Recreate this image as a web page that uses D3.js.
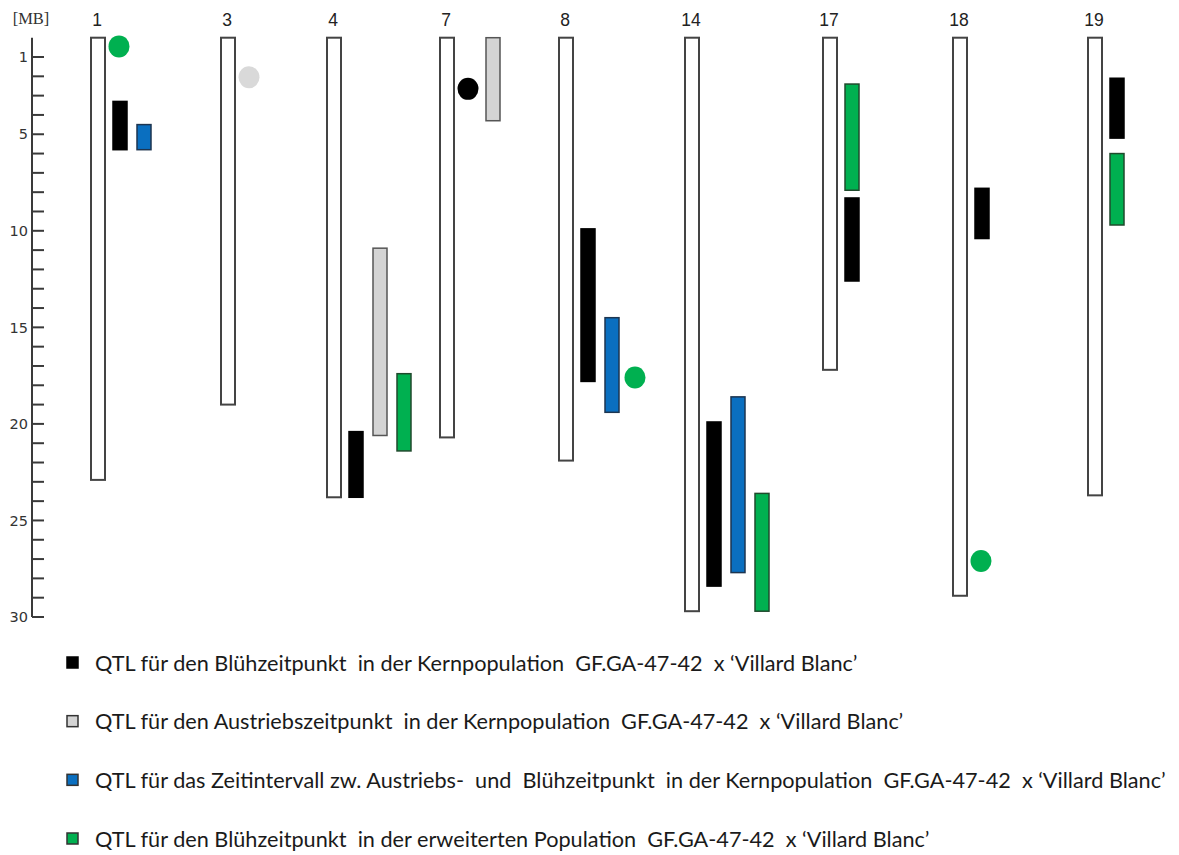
<!DOCTYPE html>
<html>
<head>
<meta charset="utf-8">
<script src="https://cdn.jsdelivr.net/npm/d3@7"></script>
<style>
  html, body { margin: 0; padding: 0; background: #fff; }
  svg { display: block; }
</style>
</head>
<body>
<svg id="chart" width="1179" height="855"></svg>
<script>
// ---------- data ----------
const chromosomes   = ["1", "3", "4", "7", "8", "14", "17", "18", "19"];
const chromLengths  = [22.9, 19.0, 23.8, 20.7, 21.9, 29.7, 17.2, 28.9, 23.7]; // MB

const traits = ["bluehKern", "austriebKern", "intervallKern", "bluehErweitert"];
const traitLabels = [
  "QTL für den Blühzeitpunkt  in der Kernpopulation  GF.GA-47-42  x \u2018Villard Blanc\u2019",
  "QTL für den Austriebszeitpunkt  in der Kernpopulation  GF.GA-47-42  x \u2018Villard Blanc\u2019",
  "QTL für das Zeitintervall zw. Austriebs-  und  Blühzeitpunkt  in der Kernpopulation  GF.GA-47-42  x \u2018Villard Blanc\u2019",
  "QTL für den Blühzeitpunkt  in der erweiterten Population  GF.GA-47-42  x \u2018Villard Blanc\u2019"
];

// QTL intervals (MB)
const qtlChrom = ["1", "1", "4", "4", "4", "7", "8", "8", "14", "14", "14", "17", "17", "18", "19", "19"];
const qtlTrait = ["bluehKern", "intervallKern", "bluehKern", "austriebKern", "bluehErweitert", "austriebKern",
                  "bluehKern", "intervallKern", "bluehKern", "intervallKern", "bluehErweitert",
                  "bluehErweitert", "bluehKern", "bluehKern", "bluehKern", "bluehErweitert"];
const qtlLane  = [1, 2, 1, 2, 3, 2, 1, 2, 1, 2, 3, 1, 1, 1, 1, 1];
const qtlStart = [3.3, 4.5, 20.4, 10.9, 17.4, 0.0, 9.9, 14.5, 19.9, 18.6, 23.6, 2.4, 8.3, 7.8, 2.1, 6.0];
const qtlEnd   = [5.8, 5.8, 23.8, 20.6, 21.4, 4.3, 17.8, 19.4, 28.4, 27.7, 29.7, 7.9, 12.6, 10.4, 5.2, 9.7];

// single-marker QTLs (MB)
const markerChrom = ["1", "3", "7", "8", "18"];
const markerTrait = ["bluehErweitert", "austriebKern", "bluehKern", "bluehErweitert", "bluehErweitert"];
const markerLane  = [1, 1, 1, 3, 1];
const markerPos   = [0.45, 2.05, 2.65, 17.6, 27.1];

const tickValues = d3.range(0, 31);
const tickLabels = [1, 5, 10, 15, 20, 25, 30];

// ---------- styles / scales ----------
const fillColor   = d3.scaleOrdinal(traits, ["#000000", "#d4d4d4", "#0a6fc0", "#00b050"]);
const strokeColor = d3.scaleOrdinal(traits, ["#000000", "#555555", "#1d3550", "#1f4a2c"]);
const markerColor = d3.scaleOrdinal(traits, ["#000000", "#d9d9d9", "#0a6fc0", "#00b050"]);

const svg = d3.select("#chart");
const y = d3.scaleLinear().domain([0, 30]).range([37.7, 617]);
const x = d3.scaleOrdinal(chromosomes, [91, 221, 327, 440, 559, 685, 823, 953, 1088]);
const lane = d3.scaleLinear().domain([0, 3]).range([-2, 70]);
const W = 14;

// ---------- axis ----------
const axisG = svg.append("g").attr("transform", "translate(32,0)");
axisG.append("line")
  .attr("x1", 0).attr("x2", 0).attr("y1", y(0)).attr("y2", y(30))
  .attr("stroke", "#3a3a3a").attr("stroke-width", 2);
axisG.selectAll("line.tick").data(tickValues.filter(d => d > 0)).join("line")
  .attr("class", "tick")
  .attr("x1", 0).attr("x2", 12)
  .attr("y1", d => y(d)).attr("y2", d => y(d))
  .attr("stroke", "#3a3a3a").attr("stroke-width", 2);
axisG.selectAll("text.lbl").data(tickLabels).join("text")
  .attr("class", "lbl")
  .attr("x", -4).attr("y", d => y(d)).attr("dy", "0.36em")
  .attr("text-anchor", "end")
  .attr("font-family", "DejaVu Sans, sans-serif").attr("font-size", 14.5)
  .attr("fill", "#333")
  .text(d => d);
svg.append("text")
  .attr("x", 31).attr("y", 24).attr("text-anchor", "middle")
  .attr("font-family", "Liberation Serif, serif").attr("font-size", 16.5)
  .attr("fill", "#333")
  .text("[MB]");

// ---------- chromosomes ----------
const chromG = svg.append("g");
chromG.selectAll("rect").data(chromosomes).join("rect")
  .attr("x", d => x(d)).attr("width", W)
  .attr("y", y(0)).attr("height", (d, i) => y(chromLengths[i]) - y(0))
  .attr("fill", "#fff").attr("stroke", "#444").attr("stroke-width", 2);
chromG.selectAll("text").data(chromosomes).join("text")
  .attr("x", d => x(d) + W / 2 - 1).attr("y", 26)
  .attr("text-anchor", "middle")
  .attr("font-family", "Liberation Sans, Arial, sans-serif").attr("font-size", 17.5)
  .attr("fill", "#222")
  .text(d => d);

// ---------- QTL bars ----------
const qtls = qtlChrom.map((c, i) => ({ c, t: qtlTrait[i], l: qtlLane[i], s: qtlStart[i], e: qtlEnd[i] }));
svg.append("g").selectAll("rect").data(qtls).join("rect")
  .attr("x", d => x(d.c) + lane(d.l)).attr("width", W)
  .attr("y", d => y(d.s)).attr("height", d => y(d.e) - y(d.s))
  .attr("fill", d => fillColor(d.t))
  .attr("stroke", d => strokeColor(d.t)).attr("stroke-width", 1.5);

// ---------- markers ----------
const markers = markerChrom.map((c, i) => ({ c, t: markerTrait[i], l: markerLane[i], p: markerPos[i] }));
svg.append("g").selectAll("ellipse").data(markers).join("ellipse")
  .attr("cx", d => x(d.c) + lane(d.l) + W / 2 - 1)
  .attr("cy", d => y(d.p))
  .attr("rx", 10.5).attr("ry", 11)
  .attr("fill", d => markerColor(d.t));

// ---------- legend ----------
const legendY = d3.scalePoint(traits, [663, 839]);
const legG = svg.append("g");
legG.selectAll("rect").data(traits).join("rect")
  .attr("x", 67).attr("y", d => legendY(d) - 6)
  .attr("width", 11).attr("height", 11)
  .attr("fill", d => fillColor(d))
  .attr("stroke", d => d === "bluehKern" ? "#000" : "#333").attr("stroke-width", 1.5);
const legText = legG.selectAll("text").data(traits).join("text")
  .attr("x", 95).attr("y", d => legendY(d)).attr("dy", "0.35em")
  .attr("font-family", "Lato, 'Open Sans', sans-serif").attr("font-size", 18)
  .attr("fill", "#1a1a1a")
  .style("white-space", "pre")
  .text((d, i) => traitLabels[i]);
// fit font size so the first line spans as in the original
const firstLen = legText.nodes()[0].getComputedTextLength();
const fs = 18 * 763 / firstLen;
legText.attr("font-size", fs);
</script>
</body>
</html>
